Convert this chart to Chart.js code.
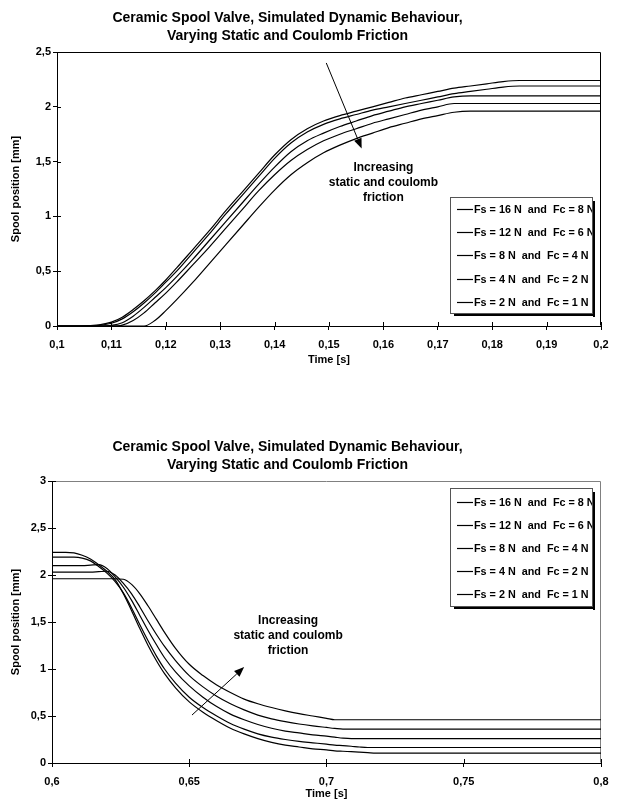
<!DOCTYPE html>
<html><head><meta charset="utf-8">
<script src="https://cdn.jsdelivr.net/npm/chart.js@4.4.1/dist/chart.umd.min.js"></script>
<style>
html,body{margin:0;padding:0;background:#fff;overflow:hidden;width:621px;height:810px;position:relative;}
#c1{position:absolute;left:-26px;top:0;}
#c2{position:absolute;left:-26px;top:390px;}
</style></head><body>
<canvas id="c1" width="647" height="390"></canvas>
<canvas id="c2" width="647" height="420"></canvas>
<script>
// ---------- data ----------
const titleLines = ['Ceramic Spool Valve, Simulated Dynamic Behaviour,', 'Varying Static and Coulomb Friction'];
const seriesLabels = ['Fs = 16 N  and  Fc = 8 N', 'Fs = 12 N  and  Fc = 6 N', 'Fs = 8 N  and  Fc = 4 N', 'Fs = 4 N  and  Fc = 2 N', 'Fs = 2 N  and  Fc = 1 N'];
const annotationLines = ['Increasing', 'static and coulomb', 'friction'];

// top chart (opening) – time [s]
const riseTime = [0.100, 0.104, 0.106, 0.108, 0.110, 0.112, 0.114, 0.116, 0.118, 0.120, 0.122, 0.125, 0.128, 0.131, 0.134, 0.137, 0.140, 0.143, 0.146, 0.149, 0.152, 0.155, 0.158, 0.161, 0.164, 0.167, 0.170, 0.173, 0.176, 0.179, 0.182, 0.185, 0.190, 0.195, 0.200];
const riseFs16 = [0, 0, 0, 0, 0, 0, 0, 0, 0.05, 0.14, 0.24, 0.40, 0.57, 0.74, 0.91, 1.08, 1.24, 1.38, 1.49, 1.58, 1.65, 1.71, 1.76, 1.81, 1.85, 1.89, 1.92, 1.95, 1.96, 1.96, 1.96, 1.96, 1.96, 1.96, 1.96];
const riseFs12 = [0, 0, 0, 0, 0, 0.008, 0.05, 0.12, 0.21, 0.30, 0.40, 0.56, 0.72, 0.89, 1.06, 1.23, 1.38, 1.51, 1.61, 1.69, 1.75, 1.80, 1.85, 1.89, 1.93, 1.97, 2.00, 2.03, 2.03, 2.03, 2.03, 2.03, 2.03, 2.03, 2.03];
const riseFs8  = [0, 0, 0, 0, 0.005, 0.03, 0.09, 0.17, 0.26, 0.35, 0.45, 0.61, 0.78, 0.95, 1.12, 1.29, 1.45, 1.59, 1.69, 1.76, 1.82, 1.87, 1.92, 1.96, 2.00, 2.03, 2.06, 2.09, 2.10, 2.10, 2.10, 2.10, 2.10, 2.10, 2.10];
const riseFs4  = [0, 0, 0.001, 0.007, 0.025, 0.065, 0.13, 0.21, 0.30, 0.40, 0.50, 0.67, 0.84, 1.02, 1.19, 1.36, 1.53, 1.67, 1.77, 1.84, 1.89, 1.93, 1.97, 2.00, 2.03, 2.06, 2.09, 2.12, 2.14, 2.16, 2.18, 2.19, 2.19, 2.19, 2.19];
const riseFs2  = [0, 0, 0.003, 0.012, 0.035, 0.08, 0.15, 0.23, 0.32, 0.42, 0.53, 0.70, 0.87, 1.05, 1.22, 1.39, 1.56, 1.70, 1.80, 1.87, 1.92, 1.96, 2.00, 2.04, 2.08, 2.11, 2.14, 2.17, 2.19, 2.21, 2.23, 2.24, 2.24, 2.24, 2.24];

// bottom chart (closing) – time [s]
const fallTime = [0.600, 0.605, 0.608, 0.611, 0.614, 0.617, 0.620, 0.623, 0.626, 0.629, 0.632, 0.635, 0.638, 0.641, 0.645, 0.650, 0.655, 0.660, 0.665, 0.670, 0.675, 0.680, 0.685, 0.690, 0.695, 0.700, 0.703, 0.706, 0.709, 0.712, 0.715, 0.718, 0.750, 0.800];
const fallFs16 = [1.96, 1.96, 1.96, 1.96, 1.96, 1.96, 1.96, 1.96, 1.955, 1.90, 1.80, 1.67, 1.53, 1.39, 1.22, 1.05, 0.93, 0.83, 0.75, 0.68, 0.63, 0.59, 0.555, 0.525, 0.50, 0.475, 0.46, 0.46, 0.46, 0.46, 0.46, 0.46, 0.46, 0.46];
const fallFs12 = [2.03, 2.03, 2.03, 2.03, 2.03, 2.035, 2.04, 2.00, 1.91, 1.80, 1.66, 1.51, 1.37, 1.24, 1.09, 0.93, 0.81, 0.71, 0.63, 0.565, 0.51, 0.47, 0.44, 0.415, 0.395, 0.378, 0.368, 0.36, 0.36, 0.36, 0.36, 0.36, 0.36, 0.36];
const fallFs8  = [2.10, 2.10, 2.10, 2.10, 2.105, 2.11, 2.07, 1.98, 1.87, 1.73, 1.57, 1.41, 1.26, 1.12, 0.97, 0.82, 0.70, 0.60, 0.52, 0.46, 0.41, 0.37, 0.34, 0.32, 0.30, 0.285, 0.275, 0.265, 0.26, 0.26, 0.26, 0.26, 0.26, 0.26];
const fallFs4  = [2.19, 2.19, 2.19, 2.18, 2.15, 2.09, 2.02, 1.93, 1.81, 1.65, 1.47, 1.30, 1.14, 1.00, 0.85, 0.70, 0.59, 0.50, 0.42, 0.36, 0.31, 0.275, 0.25, 0.23, 0.215, 0.20, 0.19, 0.185, 0.178, 0.17, 0.165, 0.165, 0.165, 0.165];
const fallFs2  = [2.24, 2.24, 2.235, 2.21, 2.17, 2.11, 2.04, 1.95, 1.80, 1.62, 1.43, 1.25, 1.09, 0.95, 0.80, 0.65, 0.54, 0.45, 0.37, 0.31, 0.26, 0.22, 0.19, 0.17, 0.15, 0.14, 0.13, 0.125, 0.12, 0.115, 0.11, 0.105, 0.105, 0.105];

// tick values and labels
const topXTicks = [0.1, 0.11, 0.12, 0.13, 0.14, 0.15, 0.16, 0.17, 0.18, 0.19, 0.2];
const topXLabels = ['0,1', '0,11', '0,12', '0,13', '0,14', '0,15', '0,16', '0,17', '0,18', '0,19', '0,2'];
const topYTicks = [0, 0.5, 1, 1.5, 2, 2.5];
const topYLabels = ['0', '0,5', '1', '1,5', '2', '2,5'];
const botXTicks = [0.6, 0.65, 0.7, 0.75, 0.8];
const botXLabels = ['0,6', '0,65', '0,7', '0,75', '0,8'];
const botYTicks = [0, 0.5, 1, 1.5, 2, 2.5, 3];
const botYLabels = ['0', '0,5', '1', '1,5', '2', '2,5', '3'];

// ---------- helpers / plugins ----------
const FONT = '"Liberation Sans", Arial, Helvetica, sans-serif';
function pts(ts, vs) { return ts.map((t, i) => ({ x: t, y: vs[i] })); }

const framePlugin = {
  id: 'plotFrame',
  beforeDatasetsDraw(chart, args, o) {
    const { ctx, chartArea: a } = chart;
    ctx.save();
    ctx.lineWidth = 1;
    ctx.strokeStyle = o.color;
    const l = Math.round(a.left) + 0.5, r = Math.round(a.right) - 0.5, t = Math.round(a.top) + 0.5, b = Math.round(a.bottom) - 0.5;
    ctx.beginPath();
    ctx.moveTo(l, t); ctx.lineTo(r, t); ctx.lineTo(r, b);
    ctx.stroke();
    // inner halves of the crossing tick marks
    ctx.strokeStyle = '#000';
    const xs = chart.scales.x, ys = chart.scales.y;
    ctx.beginPath();
    xs.ticks.forEach((tk, i) => { const p = Math.round(xs.getPixelForTick(i)) + 0.5; ctx.moveTo(p, a.bottom); ctx.lineTo(p, a.bottom - 4); });
    ys.ticks.forEach((tk, i) => { const p = Math.round(ys.getPixelForTick(i)) + 0.5; ctx.moveTo(a.left, p); ctx.lineTo(a.left + 4, p); });
    ctx.stroke();
    ctx.restore();
  }
};

const boxLegend = {
  id: 'boxLegend',
  afterDraw(chart, args, o) {
    const { ctx } = chart;
    ctx.save();
    ctx.fillStyle = '#fff';
    ctx.fillRect(o.x, o.y, o.w, o.h);
    ctx.font = 'bold ' + o.size + 'px ' + FONT;
    ctx.textBaseline = 'middle';
    ctx.textAlign = 'left';
    chart.data.datasets.forEach((ds, i) => {
      const yy = Math.round(o.firstRow + i * o.rowGap) + 0.5;
      ctx.strokeStyle = ds.borderColor;
      ctx.lineWidth = 1.2;
      ctx.beginPath(); ctx.moveTo(o.x + 7, yy); ctx.lineTo(o.x + 23, yy); ctx.stroke();
      ctx.fillStyle = '#000';
      ctx.fillText(ds.label, o.x + 24, yy + 0.5);
    });
    // border + shadow
    ctx.lineWidth = 1;
    ctx.strokeStyle = '#555';
    ctx.strokeRect(o.x + 0.5, o.y + 0.5, o.w, o.h);
    ctx.fillStyle = '#000';
    ctx.fillRect(o.x + o.w + 1, o.y + 4, 2, o.h + 0);
    ctx.fillRect(o.x + 4, o.y + o.h + 1, o.w - 1, 2);
    ctx.restore();
  }
};

const annot = {
  id: 'annot',
  afterDatasetsDraw(chart, args, o) {
    const { ctx } = chart;
    const xs = chart.scales.x, ys = chart.scales.y;
    ctx.save();
    ctx.strokeStyle = '#000'; ctx.fillStyle = '#000'; ctx.lineWidth = 1;
    const x1 = xs.getPixelForValue(o.arrow.x1), y1 = ys.getPixelForValue(o.arrow.y1);
    const x2 = xs.getPixelForValue(o.arrow.x2), y2 = ys.getPixelForValue(o.arrow.y2);
    const ang = Math.atan2(y2 - y1, x2 - x1);
    const head = 10, half = 4;
    const bx = x2 - head * Math.cos(ang), by = y2 - head * Math.sin(ang);
    ctx.beginPath(); ctx.moveTo(x1, y1); ctx.lineTo(bx, by); ctx.stroke();
    ctx.beginPath();
    ctx.moveTo(x2, y2);
    ctx.lineTo(bx + half * Math.sin(ang), by - half * Math.cos(ang));
    ctx.lineTo(bx - half * Math.sin(ang), by + half * Math.cos(ang));
    ctx.closePath(); ctx.fill();
    ctx.font = 'bold ' + o.size + 'px ' + FONT;
    ctx.textAlign = 'center'; ctx.textBaseline = 'middle';
    const tx = xs.getPixelForValue(o.text.x), ty = ys.getPixelForValue(o.text.y);
    o.lines.forEach((s, i) => ctx.fillText(s, tx, ty + i * o.gap));
    ctx.restore();
  }
};

function makeDatasets(time, seriesArr) {
  return seriesArr.map((vals, i) => ({
    label: seriesLabels[i],
    data: pts(time, vals),
    borderColor: '#000',
    backgroundColor: '#000',
    borderWidth: 1.2,
    pointRadius: 0,
    fill: false,
    cubicInterpolationMode: 'monotone'
  }));
}

function axisCommon(tickVals, tickLabels, fitFn, padding) {
  return {
    type: 'linear',
    min: tickVals[0], max: tickVals[tickVals.length - 1],
    afterBuildTicks: (s) => { s.ticks = tickVals.map(v => ({ value: v })); },
    afterFit: fitFn,
    ticks: {
      autoSkip: false, maxRotation: 0, padding: padding, color: '#000',
      font: { family: FONT, size: 11, weight: 'bold' },
      callback: (v, i) => tickLabels[i]
    },
    grid: { drawOnChartArea: false, drawTicks: true, tickLength: 4, color: '#000', lineWidth: 1 },
    border: { display: true, color: '#000', width: 1 }
  };
}

function makeChart(canvasId, cfg) {
  Chart.defaults.font.family = FONT;
  return new Chart(document.getElementById(canvasId), {
    type: 'line',
    data: { datasets: makeDatasets(cfg.time, cfg.series) },
    options: {
      responsive: false, animation: false, devicePixelRatio: 1,
      layout: { padding: { left: 0, right: 20, top: 0, bottom: 0 } },
      plugins: {
        legend: { display: false },
        tooltip: { enabled: false },
        title: {
          display: true, text: titleLines, color: '#000',
          font: { family: FONT, size: 14, weight: 'bold', lineHeight: 18 / 14 },
          padding: { top: cfg.titleTop, bottom: 7 }
        },
        plotFrame: { color: cfg.frameColor },
        boxLegend: cfg.legend,
        annot: cfg.annot
      },
      scales: {
        x: Object.assign(axisCommon(cfg.xTicks, cfg.xLabels, (s) => { s.height = cfg.xAxisH; }, 8), {
          title: { display: true, text: 'Time [s]', color: '#000', font: { family: FONT, size: 11, weight: 'bold' }, padding: { top: 0, bottom: cfg.xTitlePad } }
        }),
        y: Object.assign(axisCommon(cfg.yTicks, cfg.yLabels, (s) => { s.width = cfg.yAxisW; }, 2), {
          title: { display: true, text: 'Spool position [mm]', color: '#000', font: { family: FONT, size: 11, weight: 'bold' }, padding: { top: 35, bottom: 0 } }
        })
      }
    },
    plugins: [framePlugin, annot, boxLegend]
  });
}

makeChart('c1', {
  time: riseTime,
  series: [riseFs16, riseFs12, riseFs8, riseFs4, riseFs2],
  xTicks: topXTicks, xLabels: topXLabels, yTicks: topYTicks, yLabels: topYLabels,
  titleTop: 9, frameColor: '#000',
  xAxisH: 64, yAxisW: 83, xTitlePad: 23,
  legend: { x: 476, y: 197, w: 142, h: 116, firstRow: 209, rowGap: 23.2, size: 10.8 },
  annot: { arrow: { x1: 0.1495, y1: 2.40, x2: 0.156, y2: 1.62 }, text: { x: 0.160, y: 1.44 }, lines: annotationLines, gap: 15, size: 12 }
});

makeChart('c2', {
  time: fallTime,
  series: [fallFs16, fallFs12, fallFs8, fallFs4, fallFs2],
  xTicks: botXTicks, xLabels: botXLabels, yTicks: botYTicks, yLabels: botYLabels,
  titleTop: 48, frameColor: '#808080',
  xAxisH: 47, yAxisW: 78, xTitlePad: 9,
  legend: { x: 476, y: 98, w: 142, h: 118, firstRow: 112, rowGap: 23, size: 10.8 },
  annot: { arrow: { x1: 0.651, y1: 0.51, x2: 0.670, y2: 1.02 }, text: { x: 0.686, y: 1.51 }, lines: annotationLines, gap: 15, size: 12 }
});
</script>
</body></html>
